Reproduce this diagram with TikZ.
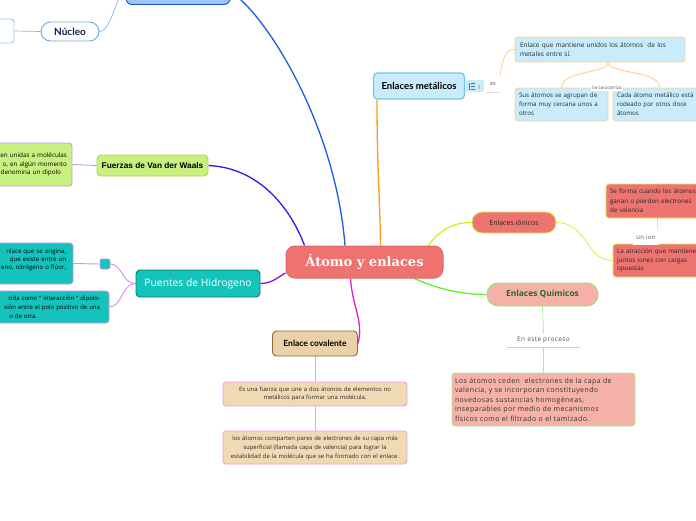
\documentclass[tikz,border=0pt]{standalone}
\usepackage{fontspec}
\setmainfont{Open Sans}
\newfontfamily\latof{Lato}
\newfontfamily\arialf{Liberation Sans}
\newfontfamily\slabf{DejaVu Serif}
\newfontfamily\spacedf[LetterSpace=6]{Open Sans}
\pgfdeclarelayer{bg}
\pgfsetlayers{bg,main}
\definecolor{topfill}{HTML}{9FC5F8}
\definecolor{topdraw}{HTML}{1155CC}
\definecolor{nucdraw}{HTML}{6FA8DC}
\definecolor{nuctxt}{HTML}{0C1F4A}
\definecolor{wbdraw}{HTML}{A4C2F4}
\definecolor{vdwfill}{HTML}{C9F07E}
\definecolor{vdwdraw}{HTML}{A6D85E}
\definecolor{lav}{HTML}{B0A4F2}
\definecolor{tealf}{HTML}{14C4BC}
\definecolor{tealdraw}{HTML}{0B7A74}
\definecolor{lilac}{HTML}{D48EF5}
\definecolor{cfill}{HTML}{EE7370}
\definecolor{cdraw}{HTML}{E06666}
\definecolor{metfill}{HTML}{C8ECFB}
\definecolor{metdraw}{HTML}{6EC6EE}
\definecolor{peach}{HTML}{FFD18C}
\definecolor{ionfill}{HTML}{EE7470}
\definecolor{iondraw}{HTML}{E2EE4A}
\definecolor{quifill}{HTML}{F6B2A8}
\definecolor{quidraw}{HTML}{86E866}
\definecolor{quitxt}{HTML}{1E6E1E}
\definecolor{lgreen}{HTML}{A8EC94}
\definecolor{covfill}{HTML}{EAD1A8}
\definecolor{covdraw}{HTML}{8C6D3F}
\definecolor{covfillb}{HTML}{F0DAB4}
\definecolor{pinkl}{HTML}{F49AE8}
\definecolor{cblue}{HTML}{1A5CE6}
\definecolor{cindigo}{HTML}{3A16E8}
\definecolor{cpurple}{HTML}{8A10F0}
\definecolor{corange}{HTML}{FF9A1A}
\definecolor{cyellow}{HTML}{D2F028}
\definecolor{cgreen}{HTML}{66EE2A}
\definecolor{cmagenta}{HTML}{E81AD8}
\definecolor{txt}{HTML}{2A2A2A}
\definecolor{lblc}{HTML}{555555}
\definecolor{lightline}{HTML}{DDDDDD}
\definecolor{lblue}{HTML}{8AB4F8}
\definecolor{iconc}{HTML}{5A6A7A}
\tikzset{
  mbox/.style={draw, rounded corners=4pt, line width=0.9pt, inner sep=0pt, align=center},
  sbox/.style={draw, rounded corners=3pt, line width=0.7pt, inner ysep=0pt, align=left, text=txt},
  conn/.style={line width=1.3pt},
  thinl/.style={line width=0.7pt},
  lbl/.style={fill=white, inner sep=1pt, text=lblc},
}
\begin{document}
\begin{tikzpicture}[x=1pt,y=-1pt]
\useasboundingbox (0,0) rectangle (696,520);
\clip (0,0) rectangle (696,520);

% ---- main nodes
\node[mbox, fill=topfill, draw=topdraw, minimum width=104pt, minimum height=25pt, rounded corners=6pt] (top) at (178,-8) {};
\node[mbox, fill=white, draw=nucdraw, minimum width=58pt, minimum height=19pt, rounded corners=9.5pt, text=nuctxt, font=\latof\bfseries\fontsize{10}{12}\selectfont] (nuc) at (70,31.5) {Núcleo};
\node[mbox, fill=white, draw=wbdraw, minimum width=28pt, minimum height=24pt, rounded corners=3pt] (wb) at (0,31) {};

\node[mbox, fill=vdwfill, draw=vdwdraw, minimum width=111pt, minimum height=21pt, font=\arialf\bfseries\fontsize{8.3}{10}\selectfont] (vdw) at (152.5,165.5) {Fuerzas de Van der Waals};
\node[sbox, fill=vdwfill, draw=lav, line width=0.9pt, minimum height=43pt, text width=80pt, inner xsep=5pt, align=right, text=black, font=\fontsize{6.3}{8.5}\selectfont] (vl) at (27,164.5) {en unidas a moléculas\\o, en algún momento\hspace*{3pt}\\denomina un dipolo\hspace*{6pt}};

\node[mbox, fill=tealf, draw=tealdraw, minimum width=124pt, minimum height=27pt, text=white, font=\fontsize{10.3}{12}\selectfont] (pu) at (198,283.5) {Puentes de Hidrogeno};
\node[mbox, fill=tealf, draw=lilac, line width=0.7pt, minimum width=10pt, minimum height=10pt, rounded corners=2pt] (sq) at (105,264) {};
\node[sbox, fill=tealf, draw=lilac, minimum height=41pt, text width=76pt, inner xsep=7pt, align=right, text=black, font=\fontsize{6.1}{8.2}\selectfont] (pb1) at (28,263.5) {nlace que se origina,\hspace*{6pt}\\que existe entre un\hspace*{11pt}\\eno, nitrógeno o flúor,\\\mbox{}};
\node[sbox, fill=tealf, draw=lilac, minimum height=32pt, text width=110pt, inner xsep=9pt, align=right, text=black, font=\fontsize{6}{8.8}\selectfont] (pb2) at (45,307) {cida como " interacción " dipolo-\\xión entre el polo positivo de una\\o de otra.\hspace*{63pt}};

\node[mbox, fill=cfill, draw=cdraw, line width=1pt, minimum width=157pt, minimum height=32pt, rounded corners=9pt, text=white, font=\slabf\bfseries\fontsize{13}{15}\selectfont] (c) at (364.5,262) {Átomo y enlaces};

\node[mbox, fill=metfill, draw=metdraw, line width=1.2pt, minimum width=91pt, minimum height=26pt, font=\latof\bfseries\fontsize{9.6}{11}\selectfont] (met) at (419,86) {Enlaces metálicos};
\node[fill=metfill, rounded corners=2pt, minimum width=18pt, minimum height=12pt, inner sep=0pt] (badge) at (475,86) {};
\node[inner sep=0pt, text=iconc, font=\fontsize{5}{6}\selectfont] (bnum) at (479.5,87.3) {1};
\node[lbl, minimum width=14pt, minimum height=16pt, inner sep=0pt, font=\fontsize{5.5}{7}\selectfont] (es) at (493,84) {es};
\node[sbox, fill=metfill, draw=peach, minimum height=25pt, text width=160pt, inner xsep=5pt, font=\fontsize{6.5}{9}\selectfont] (enl) at (600,49.5) {Enlace que mantiene unidos los átomos~ de los\\metales entre sí.};
\node[sbox, fill=metfill, draw=peach, minimum height=33pt, text width=85pt, inner xsep=4pt, font=\fontsize{6.2}{9}\selectfont] (sus) at (561.5,104.5) {Sus átomos se agrupan de\\forma muy cercana unos a\\otros};
\node[sbox, fill=metfill, draw=peach, minimum height=33pt, text width=85pt, inner xsep=4pt, font=\fontsize{6.2}{9}\selectfont] (cada) at (659.5,104.5) {Cada átomo metálico está\\rodeado por otros doce\\átomos};

\node[mbox, fill=ionfill, draw=iondraw, minimum width=84pt, minimum height=21pt, rounded corners=10pt, text=black!85, font=\fontsize{7}{9}\selectfont] (ion) at (514,222.5) {Enlaces iónicos};
\node[sbox, fill=ionfill, draw=iondraw, minimum height=34pt, text width=94pt, inner xsep=4pt, text=black!85, font=\fontsize{6.3}{9.5}\selectfont] (sf) at (657,201) {Se forma cuando los átomos\\ganan o pierden electrones\\de valencia};
\node[sbox, fill=ionfill, draw=iondraw, minimum height=33pt, text width=90pt, inner xsep=4pt, text=black!85, font=\fontsize{6.3}{8.6}\selectfont] (atr) at (662,260.5) {La atracción que mantiene\\juntos iones con cargas\\opuestas};

\node[mbox, fill=quifill, draw=quidraw, minimum width=111pt, minimum height=23pt, rounded corners=11pt, text=quitxt, font=\bfseries\fontsize{8.4}{10}\selectfont] (qui) at (542.5,294.5) {Enlaces Quimicos};
\node[sbox, fill=quifill, draw=lgreen, line width=0.9pt, minimum height=53pt, text width=177pt, inner xsep=3pt, text=black!80, font=\spacedf\fontsize{7}{9.5}\selectfont] (lq) at (543.5,399.5) {Los átomos ceden~ electrones de la capa de\\valencia, y se incorporan constituyendo\\novedosas sustancias homogéneas,\\inseparables por medio de mecanismos\\físicos como el filtrado o el tamizado.};

\node[mbox, fill=covfill, draw=covdraw, minimum width=85pt, minimum height=25pt, font=\latof\bfseries\fontsize{8.5}{10}\selectfont] (cov) at (315,343.5) {Enlace covalente};
\node[sbox, fill=covfillb, draw=pinkl, line width=0.9pt, minimum height=24pt, text width=176pt, inner xsep=4pt, align=center, font=\fontsize{5.9}{8.3}\selectfont] (cb1) at (315,394) {Es una fuerza que une a dos átomos de elementos no\\metálicos para formar una molécula.};
\node[sbox, fill=covfillb, draw=pinkl, line width=0.9pt, minimum height=33pt, text width=176pt, inner xsep=4pt, align=center, font=\fontsize{5.9}{9}\selectfont] (cb2) at (315,447.5) {los átomos comparten pares de electrones de su capa más\\superficial (llamada capa de valencia) para lograr la\\estabilidad de la molécula que se ha formado con el enlace.};

% ---- labels
\node[lbl, font=\fontsize{4.6}{6}\selectfont] (secar) at (607,88) {Se caracteriza};
\node[lbl, minimum width=26pt, minimum height=16pt, inner sep=0pt, font=\spacedf\fontsize{6}{7}\selectfont] (union) at (646,237) {un ion};
\node[lbl, minimum width=73pt, minimum height=14pt, inner sep=0pt, font=\spacedf\fontsize{6.5}{8}\selectfont] (pr) at (543.5,340) {En este proceso};

% ---- badge icon
\draw[iconc, line width=0.6pt] (469,82.5) -- (469,89.5);
\draw[iconc, line width=0.6pt] (471,83) -- (475,83) (471,86) -- (475,86) (471,89) -- (475,89);

% ---- connectors
\begin{pgfonlayer}{bg}
\fill[white] (0,0) rectangle (696,520);
\draw[conn, cblue] (top.east) .. controls (262,10) and (335,120) .. ([xshift=-19.5pt]c.north);
\draw[conn, cindigo] (vdw.east) .. controls (262,168) and (292,212) .. ([xshift=-60pt]c.north);
\draw[conn, cpurple] (pu.east) .. controls (272,283.5) and (278,277) .. ([yshift=-11pt]c.west);
\draw[conn, corange] ([xshift=-42pt]met.south) .. controls (377,170) and (380,200) .. ([xshift=16pt]c.north);
\draw[conn, cyellow] ([xshift=64pt]c.north) .. controls (440,230) and (452,222.5) .. (ion.west);
\draw[conn, cgreen] ([xshift=50pt]c.south) .. controls (435,288) and (460,294.5) .. (qui.west);
\draw[conn, cmagenta] ([xshift=-14pt]c.south) .. controls (352,305) and (364,322) .. (cov.east);

\draw[thinl, lblue] (top.west) .. controls (116,-8) and (112,31.5) .. (nuc.east);
\draw[thinl, lblue] (nuc.west) -- (wb.east);
\draw[thinl, lav, line width=0.9pt] (vdw.west) -- (vl.east);
\draw[thinl, lilac, line width=0.9pt] (pu.west) .. controls (122,283.5) and (122,264) .. (sq.east);
\draw[thinl, lilac, line width=0.9pt] (pu.west) .. controls (122,283.5) and (122,307) .. (pb2.east);
\draw[thinl, lilac, line width=0.9pt] (sq.west) -- (pb1.east);

\draw[thinl, corange!55] (es.north east) .. controls (503,55) and (507,49.5) .. (enl.west);
\draw[thinl, lightline] (es.south west) -- (es.south east);
\draw[thinl, peach, line width=0.9pt] ([xshift=8pt]enl.south) .. controls (608,74) and (561.5,70) .. (sus.north);
\draw[thinl, peach, line width=0.9pt] ([xshift=8pt]enl.south) .. controls (608,74) and (659.5,70) .. (cada.north);

\draw[thinl, cyellow] (ion.east) .. controls (588,222.5) and (585,260.5) .. (atr.west);
\draw[thinl, lightline] (sf.south) -- (sf.south |- atr.north);

\draw[thinl, lgreen] (qui.south) -- (pr.north);
\draw[thinl, lgreen] (pr.south west) -- (pr.south east);
\draw[thinl, lgreen] (pr.south) -- (lq.north);

\draw[thinl, pinkl] (cov.south) -- (cb1.north);
\draw[thinl, pinkl] (cb1.south) -- (cb2.north);
\end{pgfonlayer}
\end{tikzpicture}
\end{document}
